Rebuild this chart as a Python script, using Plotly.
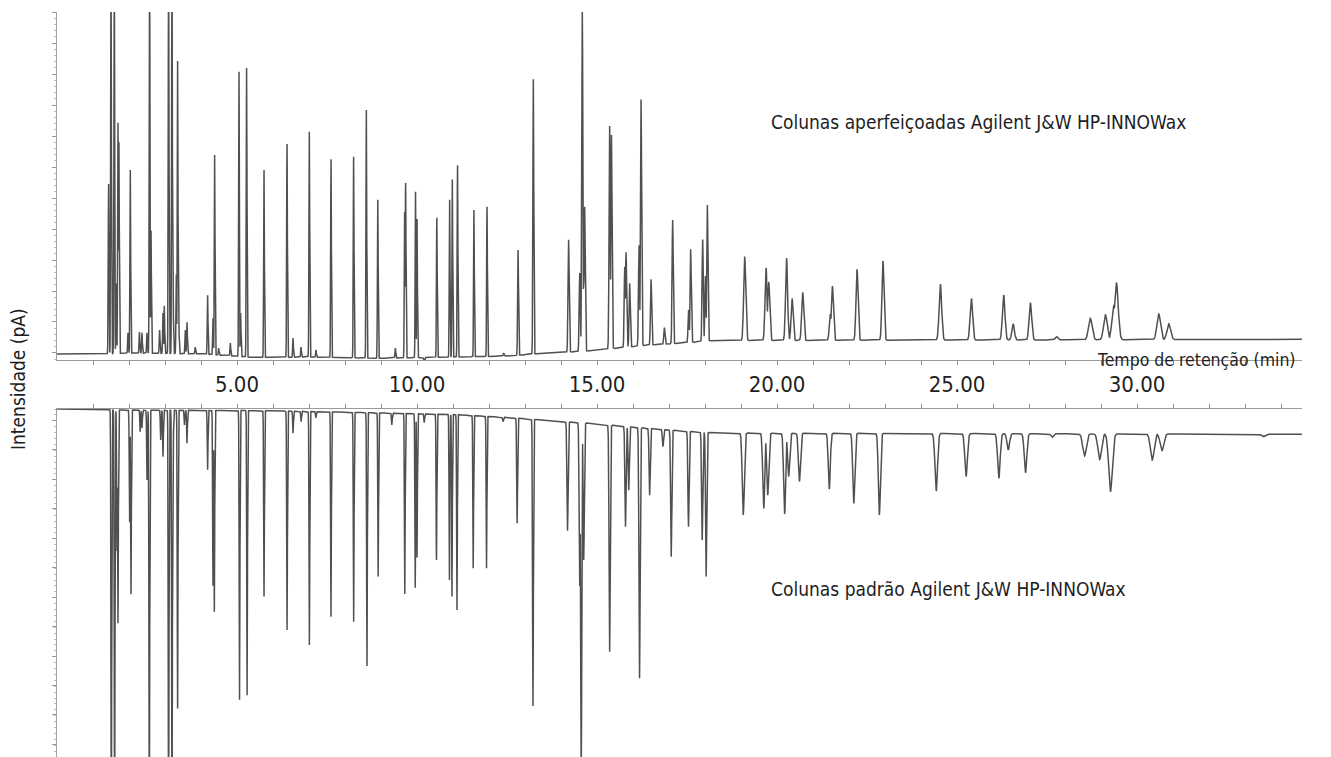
import numpy as np
import plotly.graph_objects as go
from plotly.subplots import make_subplots

# ---------------- data ----------------
# Upper chromatogram (improved columns): retention time (min) and apex intensity (pA)
top_rt = [1.433, 1.50, 1.592, 1.647, 1.694, 1.72, 1.972, 2.036, 2.29, 2.36, 2.50, 2.572, 2.611,
          2.85, 2.944, 2.98, 3.10, 3.194, 3.222, 3.314, 3.35, 3.378, 3.564, 3.611, 3.84, 4.183,
          4.333, 4.378, 4.489, 4.814, 5.056, 5.10, 5.267, 5.75, 6.389, 6.556, 6.778, 7.008, 7.194,
          7.611, 8.239, 8.592, 8.91, 9.397, 9.656, 9.683, 9.958, 10.0, 10.2, 10.55, 10.905, 10.98,
          11.125, 11.58, 11.944, 12.406, 12.806, 13.23, 14.21, 14.52, 14.59, 14.63, 14.656, 15.35,
          15.40, 15.77, 15.806, 15.906, 16.167, 16.222, 16.5, 16.87, 17.1, 17.544, 17.6, 17.933,
          18.01, 18.064, 19.1, 19.694, 19.767, 20.264, 20.417, 20.711, 21.48, 21.536, 22.22, 22.94,
          24.536, 25.397, 26.294, 26.556, 27.036, 27.758, 28.7, 29.12, 29.35, 29.425, 30.6, 30.88]
top_apex = [54.8, 130, 130, 22.6, 74.3, 68.0, 6.5, 59.0, 6.8, 6.5, 6.5, 130, 39.7,
            7.4, 12.9, 15.2, 130, 130, 22.9, 25.2, 94.2, 15.5, 7.4, 10.0, 1.9, 18.7,
            11.3, 63.9, 1.6, 3.2, 90.7, 12.9, 92.4, 59.0, 67.8, 4.8, 1.9, 71.4, 1.0,
            62.8, 63.6, 78.4, 49.4, 1.6, 45.5, 55.1, 52.0, 43.2, -3.5, 43.6, 49.7, 56.0,
            60.9, 46.1, 47.2, 0.0, 33.2, 88.3, 36.5, 25.8, 110.5, 25.0, 47.2, 73.2,
            70.3, 27.8, 32.5, 22.5, 34.8, 81.8, 23.8, 8.2, 42.9, 13.9, 33.5, 36.7,
            24.8, 47.7, 31.1, 27.5, 23.0, 30.6, 17.6, 19.6, 12.6, 21.6, 27.0, 29.7,
            22.2, 17.6, 18.7, 9.4, 16.2, 5.3, 11.2, 12.3, 15.2, 22.7, 12.6, 9.4]
top_base_rt = [0, 1.3, 2.0, 4.0, 5.5, 7.0, 9.0, 11.0, 12.5, 13.5, 14.0, 14.9, 15.5, 16.5, 17.5, 18.2, 34.58]
top_base = [-0.3, -0.3, 0.0, -0.3, -1.45, -1.3, -1.7, -1.3, -1.0, -0.1, 0.1, 0.74, 1.5, 2.6, 3.3, 4.0, 4.4]

# Lower chromatogram (standard columns), plotted inverted
bot_rt = [1.508, 1.60, 1.667, 1.694, 2.017, 2.055, 2.31, 2.36, 2.50, 2.564, 2.88, 2.944, 3.10,
          3.194, 3.22, 3.35, 3.54, 3.61, 4.183, 4.333, 4.37, 5.07, 5.28, 5.75, 6.39, 6.556, 6.78,
          7.01, 7.19, 7.61, 8.24, 8.61, 8.92, 9.30, 9.66, 9.95, 10.0, 10.2, 10.54, 10.9, 10.97,
          11.11, 11.56, 11.93, 12.39, 12.78, 13.22, 14.18, 14.52, 14.56, 14.63, 15.35, 15.79,
          15.88, 16.18, 16.46, 16.83, 17.06, 17.54, 17.92, 18.03, 19.06, 19.63, 19.74, 20.21,
          20.32, 20.62, 21.45, 22.13, 22.84, 24.42, 25.25, 26.16, 26.42, 26.9, 27.64, 28.54,
          28.96, 29.26, 30.42, 30.69, 33.5]
bot_apex = [-150, -150, -48.4, -72.6, -38.6, -63.1, -7.7, -6.4, -24.1, -150, -10.5, -16.2, -150,
            -150, -27.5, -101.5, -5.4, -11.6, -20.7, -60.2, -68.7, -98.6, -97.0, -63.6, -74.9, -8.2, -4.3,
            -80.0, -3.0, -70.4, -72.1, -87.1, -56.8, -5.4, -62.7, -60.6, -50.3, -4.6, -51.2, -58.0, -63.6,
            -68.1, -54.0, -54.0, -4.3, -38.7, -100.7, -41.3, -60.0, -125.0, -51.2, -82.3, -39.9,
            -27.5, -91.3, -29.2, -12.8, -50.1, -39.9, -44.4, -56.8, -35.9, -33.7, -29.2, -35.6,
            -22.9, -24.6, -27.2, -32.0, -35.9, -27.8, -22.9, -23.5, -13.9, -21.6, -9.6, -15.9,
            -17.1, -28.0, -17.3, -14.1, -9.4]
bot_base_rt = [0, 1.4, 1.5, 5.0, 6.4, 9.0, 11.0, 12.5, 13.5, 14.8, 16.0, 17.0, 18.3, 34.58]
bot_base = [0, 0, -0.34, -0.5, -0.68, -1.36, -1.86, -2.88, -3.73, -4.85, -6.1, -7.12, -8.14, -8.58]

x_ticks = list(range(1, 35))
x_labels = [f"{v:.2f}" if v % 5 == 0 else "" for v in x_ticks]

# ---------------- rendering ----------------
t = np.arange(0, 34.58, 0.002)


def sigma(rt):
    if rt < 12:
        return 0.010
    if rt < 14:
        return 0.012
    if rt < 18.2:
        return 0.016
    if rt < 23.5:
        return 0.028
    if rt < 28:
        return 0.035
    return 0.05


def build(rts, apexes, brt, bval):
    base = np.interp(t, brt, bval)
    pos = np.zeros_like(t)
    neg = np.zeros_like(t)
    for r, a in zip(rts, apexes):
        h = a - np.interp(r, brt, bval)
        g = h * np.exp(-0.5 * ((t - r) / sigma(r)) ** 2)
        if h >= 0:
            pos = np.maximum(pos, g)
        else:
            neg = np.minimum(neg, g)
    return base + pos + neg


y_top = build(top_rt, top_apex, top_base_rt, top_base)
y_bot = build(bot_rt, bot_apex, bot_base_rt, bot_base)

# page body has an 8px default margin: layout is laid out in screen pixels minus that offset
OFF = 8
W, H = 1331, 757
ML = 57 - OFF
PW = 1245
MR = W - ML - PW
MB = OFF
PH = H - MB


def px_x(px):
    return (px - 57) / PW


def px_y(py):
    return (H - py) / PH


fig = make_subplots(rows=2, cols=1)
line_style = dict(color="#505050", width=1.5)
fig.add_trace(go.Scatter(x=t, y=y_top, mode="lines", line=line_style, hoverinfo="skip",
                         showlegend=False), row=1, col=1)
fig.add_trace(go.Scatter(x=t, y=y_bot, mode="lines", line=line_style, hoverinfo="skip",
                         showlegend=False), row=2, col=1)

FONT = "DejaVu Sans Condensed, Liberation Sans Narrow, sans-serif"
TXT = "#1e1e1e"

fig.update_layout(
    width=W, height=H,
    margin=dict(l=ML, r=MR, t=0, b=MB),
    paper_bgcolor="white", plot_bgcolor="white",
    font=dict(family=FONT, color=TXT),
    xaxis=dict(domain=[0, 1], range=[0, 34.58], tickmode="array", tickvals=x_ticks,
               ticktext=x_labels, ticks="outside", ticklen=4, tickcolor="#8a8a8a",
               showline=True, linecolor="#9a9a9a", linewidth=1, showgrid=False, zeroline=False,
               tickfont=dict(family=FONT, size=22, color=TXT), ticklabelstandoff=1),
    yaxis=dict(domain=[px_y(360), px_y(12)], range=[-2.26, 110], tick0=0, dtick=10,
               ticks="outside", ticklen=4, tickcolor="#9a9a9a", showticklabels=False,
               showline=True, linecolor="#a0a0a0", linewidth=1, showgrid=False, zeroline=False,
               minor=dict(ticks="outside", ticklen=2, dtick=2, tickcolor="#b8b8b8")),
    xaxis2=dict(domain=[0, 1], range=[0, 34.58], side="top", tickmode="array", tickvals=x_ticks,
                ticks="outside", ticklen=4, tickcolor="#8a8a8a", showticklabels=False,
                showline=True, linecolor="#9a9a9a", linewidth=1, showgrid=False, zeroline=False,
                anchor="y2"),
    yaxis2=dict(domain=[0, px_y(408.5)], range=[-117.97, 0.17], tick0=-3.73, dtick=10,
                ticks="outside", ticklen=4, tickcolor="#9a9a9a", showticklabels=False,
                showline=True, linecolor="#a0a0a0", linewidth=1, showgrid=False, zeroline=False,
                minor=dict(ticks="outside", ticklen=2, dtick=2, tickcolor="#b8b8b8"),
                anchor="x2"),
)

fig.add_annotation(x=px_x(1298), y=px_y(360), xref="paper", yref="paper", xanchor="right",
                   yanchor="middle", showarrow=False, text="Tempo de retenção (min)",
                   font=dict(family=FONT, size=17.5, color=TXT))
fig.add_annotation(x=px_x(769), y=px_y(122), xref="paper", yref="paper", xanchor="left",
                   yanchor="middle", showarrow=False,
                   text="Colunas aperfeiçoadas Agilent J&W HP-INNOWax",
                   font=dict(family=FONT, size=19, color=TXT))
fig.add_annotation(x=px_x(769), y=px_y(588.5), xref="paper", yref="paper", xanchor="left",
                   yanchor="middle", showarrow=False,
                   text="Colunas padrão Agilent J&W HP-INNOWax",
                   font=dict(family=FONT, size=19, color=TXT))
fig.add_annotation(x=px_x(17.5), y=px_y(378.5), xref="paper", yref="paper", xanchor="center",
                   yanchor="middle", showarrow=False, textangle=-90, text="Intensidade (pA)",
                   font=dict(family=FONT, size=19, color=TXT))

fig.write_html("out.html")
